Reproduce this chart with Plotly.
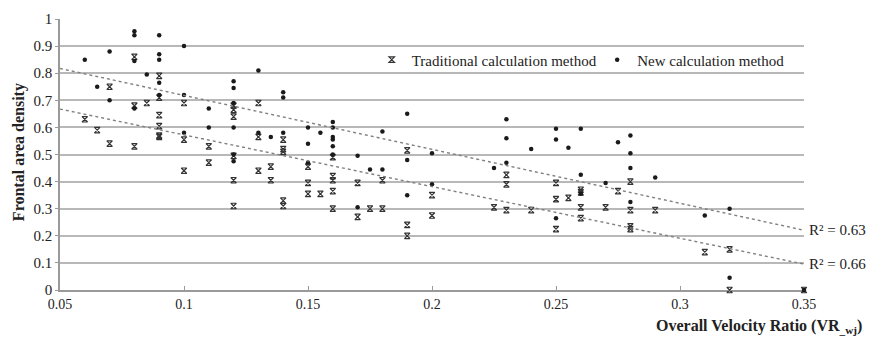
import numpy as np
import plotly.graph_objects as go

# ---- data ----
trad_x = [0.06, 0.065, 0.07, 0.07, 0.08, 0.08, 0.08, 0.085, 0.09, 0.09, 0.09, 0.09, 0.09, 0.09,
          0.1, 0.1, 0.1, 0.11, 0.11, 0.12, 0.12, 0.12, 0.12, 0.12, 0.12, 0.13, 0.13, 0.13,
          0.135, 0.135, 0.14, 0.14, 0.14, 0.14, 0.14, 0.15, 0.15, 0.15, 0.155,
          0.16, 0.16, 0.16, 0.16, 0.16, 0.17, 0.17, 0.175, 0.18, 0.18, 0.19, 0.19, 0.19,
          0.2, 0.2, 0.225, 0.23, 0.23, 0.23, 0.24, 0.25, 0.25, 0.25, 0.255,
          0.26, 0.26, 0.26, 0.26, 0.27, 0.275, 0.28, 0.28, 0.28, 0.28, 0.29,
          0.31, 0.32, 0.32, 0.35]
trad_y = [0.63, 0.59, 0.75, 0.54, 0.86, 0.68, 0.53, 0.69, 0.79, 0.71, 0.645, 0.605, 0.57, 0.565,
          0.69, 0.555, 0.44, 0.53, 0.47, 0.68, 0.665, 0.64, 0.495, 0.405, 0.31, 0.69, 0.565, 0.44,
          0.455, 0.405, 0.555, 0.52, 0.51, 0.33, 0.31, 0.455, 0.395, 0.355, 0.355,
          0.49, 0.42, 0.405, 0.365, 0.30, 0.395, 0.27, 0.30, 0.405, 0.30, 0.515, 0.24, 0.20,
          0.35, 0.275, 0.305, 0.425, 0.39, 0.295, 0.295, 0.395, 0.335, 0.225, 0.34,
          0.37, 0.36, 0.305, 0.265, 0.305, 0.365, 0.40, 0.295, 0.235, 0.225, 0.295,
          0.14, 0.15, 0.0, 0.0]

new_x = [0.06, 0.065, 0.07, 0.07, 0.08, 0.08, 0.08, 0.08, 0.085, 0.09, 0.09, 0.09, 0.09, 0.09,
         0.1, 0.1, 0.1, 0.11, 0.11, 0.12, 0.12, 0.12, 0.12, 0.12, 0.12, 0.13, 0.13, 0.135,
         0.14, 0.14, 0.14, 0.15, 0.15, 0.15, 0.155, 0.16, 0.16, 0.16, 0.16, 0.16, 0.16,
         0.17, 0.17, 0.175, 0.18, 0.18, 0.19, 0.19, 0.19, 0.2, 0.2, 0.225, 0.23, 0.23, 0.23,
         0.24, 0.25, 0.25, 0.25, 0.255, 0.26, 0.26, 0.26, 0.27, 0.275, 0.28, 0.28, 0.28, 0.28,
         0.29, 0.31, 0.32, 0.32, 0.35]
new_y = [0.85, 0.75, 0.88, 0.70, 0.955, 0.94, 0.845, 0.67, 0.795, 0.94, 0.87, 0.85, 0.765, 0.72,
         0.90, 0.72, 0.58, 0.67, 0.60, 0.77, 0.745, 0.69, 0.60, 0.50, 0.475, 0.81, 0.58, 0.565,
         0.73, 0.71, 0.58, 0.60, 0.54, 0.47, 0.58, 0.62, 0.60, 0.565, 0.555, 0.53, 0.50,
         0.495, 0.305, 0.445, 0.585, 0.445, 0.65, 0.48, 0.35, 0.505, 0.39, 0.45, 0.63, 0.56, 0.47,
         0.52, 0.595, 0.555, 0.265, 0.525, 0.595, 0.425, 0.355, 0.395, 0.545, 0.57, 0.505, 0.45, 0.325,
         0.415, 0.275, 0.30, 0.045, 0.0]

# linear trend coefficients (slope, intercept)
trend_new = [-1.99, 0.917]
trend_trad = [-1.907, 0.763]
r2_labels = ["R² = 0.63", "R² = 0.66"]
x_range = [0.05, 0.35]
y_ticks = [0, 0.1, 0.2, 0.3, 0.4, 0.5, 0.6, 0.7, 0.8, 0.9, 1]
x_ticks = [0.05, 0.1, 0.15, 0.2, 0.25, 0.3, 0.35]

FONT = "Liberation Serif, Times New Roman, serif"

fig = go.Figure()

fig.add_trace(go.Scatter(
    x=trad_x, y=trad_y, mode="markers", name="Traditional calculation method", cliponaxis=False,
    marker=dict(symbol="hourglass-open", size=5.5, color="#333333", line=dict(width=1.2, color="#333333")),
    legend="legend"))
fig.add_trace(go.Scatter(
    x=new_x, y=new_y, mode="markers", name="New calculation method", cliponaxis=False,
    marker=dict(symbol="circle", size=4.5, color="#1a1a1a"),
    legend="legend2"))

tx = np.array(x_range)
for coef in (trend_new, trend_trad):
    fig.add_trace(go.Scatter(
        x=tx, y=coef[0] * tx + coef[1], mode="lines", showlegend=False,
        line=dict(color="#808080", width=1.4, dash="dot"), hoverinfo="skip"))

for coef, lab in zip((trend_new, trend_trad), r2_labels):
    fig.add_annotation(x=x_range[1], y=coef[0] * x_range[1] + coef[1], text=lab,
                       xref="x", yref="y", xanchor="left", yanchor="middle", xshift=3,
                       showarrow=False, font=dict(family=FONT, size=15, color="#222222"))

fig.add_annotation(text="<b>Frontal area density</b>", textangle=-90, xref="paper", yref="paper",
                   x=-0.056, y=0.51, xanchor="center", yanchor="middle", showarrow=False,
                   font=dict(family=FONT, size=16, color="#222222"))
fig.add_annotation(text="<b>Overall Velocity Ratio (VR<sub>_wj</sub>)</b>", xref="paper", yref="paper",
                   x=1.08, y=-0.135, xanchor="right", yanchor="middle", showarrow=False,
                   font=dict(family=FONT, size=16, color="#222222"))

fig.update_layout(
    width=873, height=345,
    margin=dict(l=60, r=69, t=11, b=55),
    paper_bgcolor="white", plot_bgcolor="white",
    font=dict(family=FONT, size=14, color="#222222"),
    showlegend=True,
    legend=dict(orientation="h", x=0.419, y=0.849, xanchor="left", yanchor="middle",
                bgcolor="rgba(0,0,0,0)", font=dict(family=FONT, size=15, color="#222222")),
    legend2=dict(orientation="h", x=0.722, y=0.849, xanchor="left", yanchor="middle",
                 bgcolor="rgba(0,0,0,0)", font=dict(family=FONT, size=15, color="#222222")),
    xaxis=dict(range=x_range, tickvals=x_ticks, ticktext=[f"{v:g}" for v in x_ticks],
               showgrid=False, zeroline=False, showline=True, linecolor="#9a9a9a", linewidth=1.5,
               ticks="inside", ticklen=4, tickcolor="#9a9a9a", tickfont=dict(size=14),
               layer="below traces"),
    yaxis=dict(range=[0, 1], tickvals=y_ticks, ticktext=[f"{v:g}" for v in y_ticks],
               showgrid=True, gridcolor="#b8b8b8", gridwidth=1.5, zeroline=False,
               showline=True, linecolor="#9a9a9a", linewidth=1.5,
               ticks="outside", ticklen=3, tickcolor="#9a9a9a", tickfont=dict(size=15),
               layer="below traces"),
)

fig.write_html("out.html", config={"displayModeBar": False},
               post_script="document.body.style.margin='0';document.body.style.overflow='hidden';")
